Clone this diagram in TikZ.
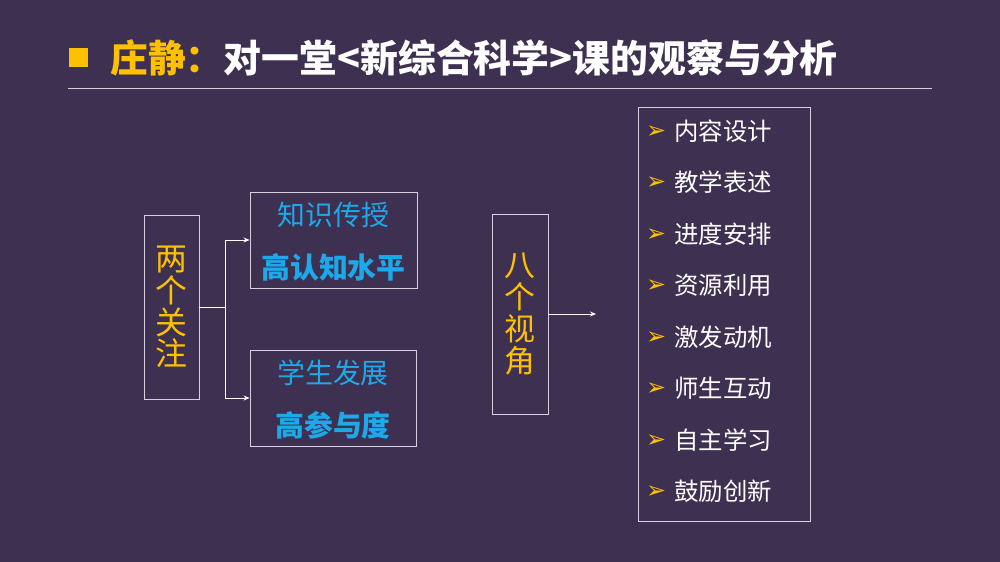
\documentclass[tikz,border=0pt]{standalone}
\usepackage{fontspec}
\setmainfont{Noto Sans CJK SC}
\newfontfamily\symfont{DejaVu Sans}
\usetikzlibrary{arrows.meta,positioning}
\definecolor{bg}{HTML}{3D3050}
\definecolor{gold}{HTML}{FFC000}
\definecolor{cyanb}{HTML}{1DA8EA}
\definecolor{frame}{HTML}{D8D0E0}
\tikzset{
  boxy/.style={draw=frame, line width=0.9bp, inner sep=0pt},
  vtext/.style={text=gold, align=center, font=\fontsize{32}{32}\selectfont},
  cyt/.style={text=cyanb, font=\fontsize{28}{30}\selectfont},
  cytb/.style={text=cyanb, font=\fontsize{29}{30}\selectfont\bfseries},
  item/.style={text=white, anchor=west, font=\fontsize{24.5}{26}\selectfont},
  bul/.style={text=gold, anchor=west, inner sep=0pt, font=\symfont\fontsize{24}{26}\selectfont},
  conn/.style={draw=white, line width=0.9bp, -{Stealth[length=6bp,width=5bp]}},
  link/.style={draw=white, line width=0.9bp}
}
\begin{document}
\begin{tikzpicture}[x=1bp,y=-1bp]
\fill[bg] (0,0) rectangle (1000,562);
\useasboundingbox (0,0) rectangle (1000,562);
% title
\node[fill=gold, minimum size=19bp, inner sep=0pt] (sq) at (78,58) {};
\node[anchor=west, inner sep=0pt, font=\fontsize{38}{40}\selectfont\bfseries] (title) at (110,58)
  {\textcolor{gold}{庄静：}\textcolor{white}{对一堂<新综合科学>课的观察与分析}};
\coordinate (hl) at (68,88);
\coordinate (hr) at (932,88);
\draw[draw=frame, line width=0.8bp] (hl) -- (hr);
% left box
\node[boxy, minimum width=55bp, minimum height=184bp] (two) at (171.5,307) {};
\node[vtext] (twot) at (two.center) {两\\个\\关\\注};
\node[boxy, minimum width=167bp, minimum height=96bp] (top) at (333.5,240) {};
\node[cyt] (topa) at (333.5,215) {知识传授};
\node[cytb] (topb) at (333.5,267) {高认知水平};
\node[boxy, minimum width=166bp, minimum height=96bp] (bot) at (333,398) {};
\node[cyt] (bota) at (333,373) {学生发展};
\node[cytb] (botb) at (333,425) {高参与度};
\coordinate (fork) at (225,307);
\draw[link] (two.east) -- (fork);
\draw[conn] (fork) |- (top.west);
\draw[conn] (fork) |- (bot.west);
% eight views
\node[boxy, minimum width=56bp, minimum height=200bp] (eight) at (520,314) {};
\node[vtext, font=\fontsize{31}{32}\selectfont] (eightt) at (eight.center) {八\\个\\视\\角};
\coordinate (tip) at (596,314);
\draw[conn] (eight.east) -- (tip);
\node[boxy, minimum width=172bp, minimum height=414bp] (list) at (724,314) {};
\foreach \t [count=\i] in {内容设计,教学表述,进度安排,资源利用,激发动机,师生互动,自主学习,鼓励创新}{
  \node[bul] (b\i) at (646,{132+51.5*(\i-1)}) {➢};
  \node[item] (t\i) at (671,{131+51.5*(\i-1)}) {\t};
}
\end{tikzpicture}
\end{document}
